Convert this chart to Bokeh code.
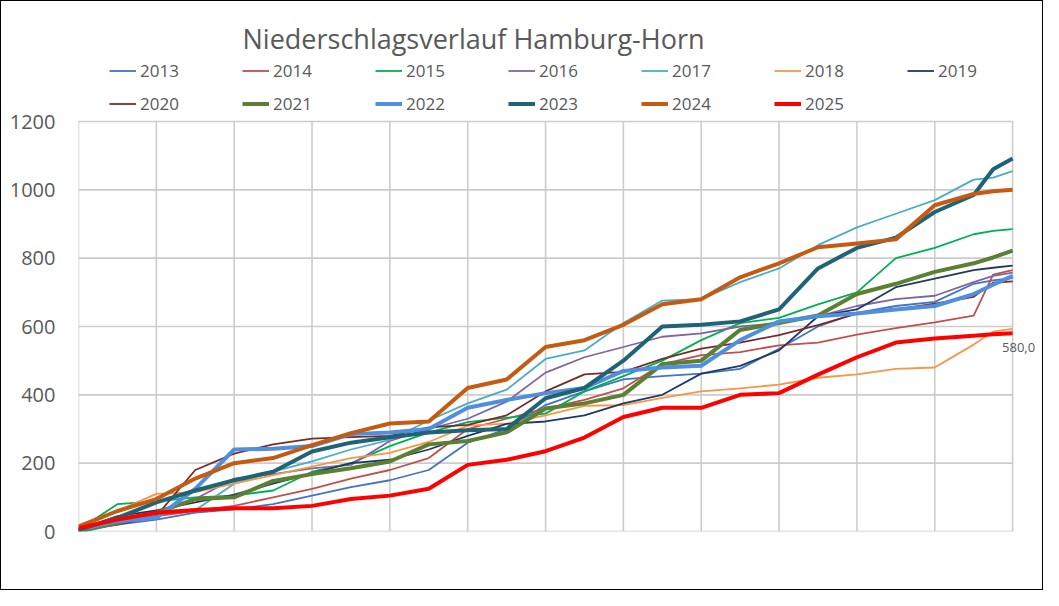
from bokeh.plotting import figure
from bokeh.models import Range1d, FixedTicker, Legend, LegendItem, Label
from bokeh.embed import file_html
from bokeh.resources import INLINE

# x positions: half-month steps through the year (0 = 1 Jan, 12 = 31 Dec),
# with one extra point in late December
months = [0, 0.5, 1, 1.5, 2, 2.5, 3, 3.5, 4, 4.5, 5, 5.5, 6, 6.5, 7, 7.5, 8, 8.5, 9, 9.5,
          10, 10.5, 11, 11.5, 11.75, 12]

# cumulative precipitation (mm) per year
y2013 = [3, 20, 35, 55, 65, 80, 105, 130, 150, 180, 260, 300, 370, 410, 445, 455, 462, 476, 535, 600, 640, 660, 672, 725, 735, 742]
y2014 = [5, 25, 45, 60, 75, 100, 125, 155, 180, 215, 300, 330, 360, 385, 419, 490, 516, 525, 545, 553, 576, 595, 612, 632, 752, 765]
y2015 = [5, 80, 88, 100, 105, 120, 175, 200, 250, 290, 320, 333, 345, 410, 455, 500, 560, 610, 625, 665, 700, 800, 830, 870, 880, 885]
y2016 = [3, 30, 55, 95, 155, 168, 185, 195, 265, 300, 330, 380, 465, 510, 540, 570, 580, 600, 610, 630, 660, 680, 690, 730, 748, 758]
y2017 = [5, 35, 60, 62, 140, 175, 205, 240, 268, 325, 375, 415, 505, 530, 610, 676, 680, 730, 770, 838, 890, 930, 970, 1030, 1036, 1055]
y2018 = [5, 60, 110, 115, 140, 165, 190, 215, 230, 262, 310, 316, 340, 368, 370, 391, 410, 419, 430, 450, 460, 476, 480, 547, 585, 593]
y2019 = [5, 45, 62, 85, 108, 140, 170, 200, 210, 240, 280, 315, 322, 340, 375, 400, 462, 485, 530, 630, 650, 715, 740, 765, 772, 778]
y2020 = [5, 20, 45, 180, 228, 255, 272, 276, 280, 305, 312, 340, 410, 460, 467, 505, 535, 553, 575, 604, 638, 650, 667, 687, 728, 732]
y2021 = [0, 25, 55, 95, 100, 148, 168, 185, 205, 255, 265, 290, 360, 375, 400, 490, 500, 590, 610, 632, 695, 725, 760, 785, 802, 822]
y2022 = [5, 30, 40, 125, 240, 242, 250, 285, 290, 300, 362, 385, 405, 420, 470, 480, 485, 560, 615, 630, 638, 650, 660, 695, 722, 748]
y2023 = [5, 40, 85, 120, 150, 175, 234, 260, 276, 290, 296, 300, 390, 420, 500, 600, 605, 615, 650, 770, 830, 860, 935, 985, 1060, 1092]
y2024 = [15, 60, 95, 155, 200, 215, 253, 288, 316, 322, 420, 445, 540, 560, 605, 665, 680, 744, 785, 832, 843, 855, 955, 988, 996, 1000]
y2025 = [10, 35, 55, 63, 68, 68, 75, 95, 105, 125, 195, 210, 235, 275, 335, 362, 362, 400, 405, 459, 510, 553, 565, 573, 577, 580]

years = ["2013", "2014", "2015", "2016", "2017", "2018", "2019",
         "2020", "2021", "2022", "2023", "2024", "2025"]
series = [y2013, y2014, y2015, y2016, y2017, y2018, y2019,
          y2020, y2021, y2022, y2023, y2024, y2025]
colors = ["#4472C4", "#C0504D", "#00B050", "#8064A2", "#4BACC6", "#F79646", "#1F3864",
          "#772C2A", "#5B7F33", "#4F8FDD", "#1F6376", "#C55A11", "#FF0000"]
widths = [1.8, 1.8, 1.8, 1.8, 1.8, 1.8, 1.8, 1.8, 4, 4, 4, 4, 4]

y_ticks = [0, 200, 400, 600, 800, 1000, 1200]
month_ticks = [0, 1, 2, 3, 4, 5, 6, 7, 8, 9, 10, 11, 12]
title_text = "Niederschlagsverlauf Hamburg-Horn"

FONT = "Open Sans"
GREY = "#595959"
GRID = "#CCCCCC"

# The frame reaches up to the figure top (room for title and legend above the
# 0..1200 plot area) and a little past the year's end (room for the end label).
W, H = 1043, 590
LEFT, RIGHT, BOTTOM = 77, 7, 60
plot_top_px = 120                      # screen row of the 1200 line
frame_h = H - BOTTOM
y_top = y_ticks[-1] * frame_h / (frame_h - plot_top_px)

p = figure(width=W, height=H, x_range=Range1d(0, 12.32), y_range=Range1d(0, y_top),
           output_backend="svg", toolbar_location=None,
           min_border_left=LEFT, min_border_right=RIGHT, min_border_bottom=BOTTOM,
           min_border_top=0)
p.styles = {"border": "1px solid #000000"}
p.title = None

p.outline_line_color = None
p.background_fill_color = "white"
p.border_fill_color = "white"

p.xaxis.visible = False
p.xgrid.visible = False
p.ygrid.visible = False
# grid lines limited to the plot area (year 0..12, 0..1200 mm)
p.segment(x0=month_ticks, x1=month_ticks, y0=[y_ticks[0]] * len(month_ticks),
          y1=[y_ticks[-1]] * len(month_ticks), line_color=GRID, line_width=1.6)
p.segment(x0=[month_ticks[0]] * len(y_ticks), x1=[month_ticks[-1]] * len(y_ticks),
          y0=y_ticks, y1=y_ticks, line_color=GRID, line_width=1.6)

ax = p.yaxis[0]
ax.ticker = FixedTicker(ticks=y_ticks)
ax.axis_line_color = None
ax.major_tick_line_color = None
ax.major_tick_out = 0
ax.major_tick_in = 0
ax.minor_tick_line_color = None
ax.minor_tick_out = 0
ax.major_label_text_font = FONT
ax.major_label_text_font_size = "20px"
ax.major_label_text_color = GREY
ax.major_label_standoff = 23

items = []
for yr, ys, c, w in zip(years, series, colors, widths):
    r = p.line(months, ys, line_color=c, line_width=w, line_join="round")
    items.append(LegendItem(label=yr, renderers=[r]))

# chart title
p.add_layout(Label(x=164, y=frame_h - 37, x_units="screen", y_units="screen", text=title_text,
                   text_font=FONT, text_font_size="27px", text_color=GREY,
                   text_align="left", text_baseline="alphabetic"))

# data label at the end of 2025
last_label = f"{y2025[-1]:.1f}".replace(".", ",")
p.add_layout(Label(x=months[-1], y=y2025[-1], text=last_label, x_offset=6, y_offset=-14,
                   text_align="center", text_baseline="middle", text_font=FONT,
                   text_font_size="13px", text_color=GREY))

legend = Legend(items=items, location=(31, frame_h - 116), orientation="horizontal", ncols=7)
legend.padding = 0
legend.margin = 0
legend.spacing = 6
legend.glyph_width = 27
legend.glyph_height = 27
legend.label_height = 27
legend.label_width = 96
legend.label_standoff = 4
legend.label_text_font = FONT
legend.label_text_font_size = "17px"
legend.label_text_color = GREY
legend.border_line_color = None
legend.background_fill_alpha = 0
p.add_layout(legend, "center")

open("out.html", "w").write(file_html(p, INLINE))
